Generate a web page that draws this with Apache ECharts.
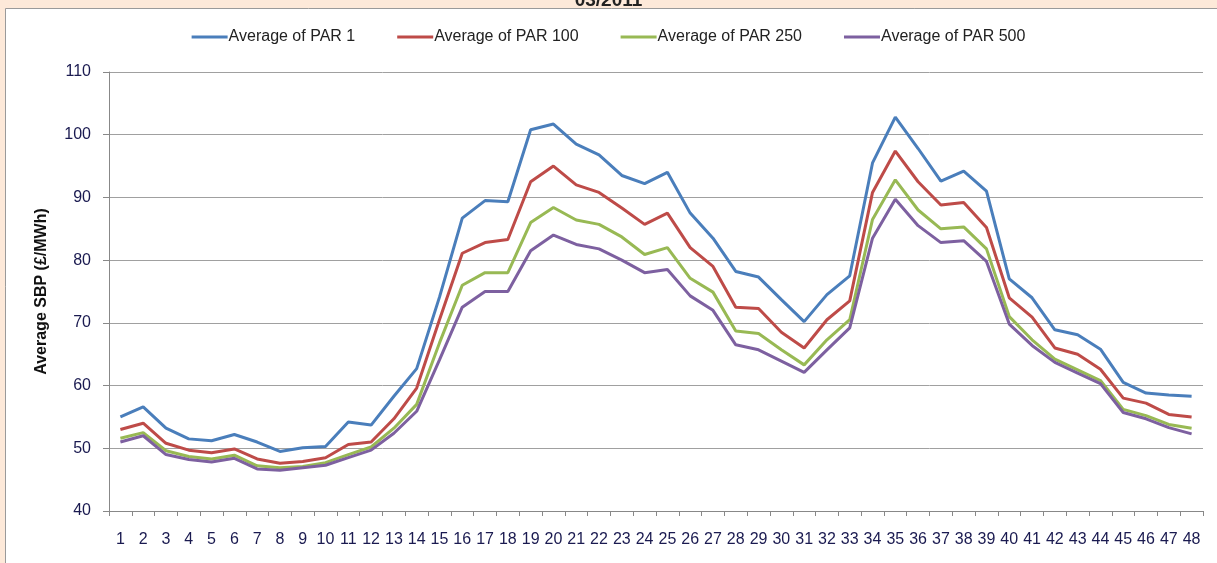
<!DOCTYPE html>
<html>
<head>
<meta charset="utf-8">
<script src="https://cdn.jsdelivr.net/npm/echarts@6/dist/echarts.min.js"></script>
<style>
html,body{margin:0;padding:0;background:#fde9d9;}
#chart{width:1217px;height:563px;}
</style>
</head>
<body>
<div id="chart"></div>
<script>
var periods=['1','2','3','4','5','6','7','8','9','10','11','12','13','14','15','16','17','18','19','20','21','22','23','24',
	'25','26','27','28','29','30','31','32','33','34','35','36','37','38','39','40','41','42','43','44','45','46','47','48'];
var par1=[55.0,56.6,53.2,51.5,51.2,52.2,51.0,49.5,50.1,50.3,54.2,53.7,58.3,62.7,74.1,86.7,89.5,89.3,100.8,101.7,98.5,96.8,93.5,92.2,
	94.0,87.5,83.5,78.2,77.3,73.7,70.2,74.5,77.5,95.5,102.8,97.8,92.6,94.2,91.0,77.0,74.0,68.9,68.1,65.8,60.5,58.8,58.5,58.3];
var par100=[53.0,54.0,50.8,49.7,49.3,49.9,48.3,47.6,47.9,48.5,50.6,51.0,54.7,59.6,70.5,81.1,82.8,83.3,92.5,95.0,92.0,90.8,88.3,85.7,
	87.5,82.0,79.0,72.5,72.3,68.5,66.0,70.5,73.5,90.8,97.4,92.5,88.8,89.2,85.2,74.0,70.9,66.0,65.0,62.6,58.0,57.2,55.4,55.0];
var par250=[51.6,52.5,49.6,48.7,48.3,48.9,47.2,46.9,47.1,47.7,49.0,50.2,53.2,57.0,66.8,76.0,78.0,78.0,86.0,88.4,86.4,85.7,83.7,80.9,
	82.0,77.1,74.9,68.7,68.3,65.7,63.3,67.3,70.5,86.5,92.8,88.0,85.0,85.3,81.8,71.0,67.3,64.2,62.5,60.8,56.2,55.2,53.8,53.2];
var par500=[51.0,52.0,49.0,48.2,47.8,48.4,46.7,46.5,46.9,47.3,48.5,49.7,52.4,55.9,64.1,72.5,75.0,75.0,81.5,84.0,82.5,81.8,80.0,78.0,
	78.5,74.3,72.0,66.5,65.7,63.9,62.1,65.7,69.2,83.5,89.7,85.5,82.8,83.1,79.8,69.8,66.4,63.7,62.0,60.3,55.7,54.7,53.3,52.3];
var seriesNames=['Average of PAR 1','Average of PAR 100','Average of PAR 250','Average of PAR 500'];
var seriesColors=['#4a7ebb','#be4b48','#98b954','#7d60a0'];

var font='"Liberation Sans",Arial,sans-serif';
var mychart=echarts.init(document.getElementById('chart'));
var allData=[par1,par100,par250,par500];
var series=allData.map(function(d,i){
	return {
		name:seriesNames[i],
		type:'line',
		data:d,
		symbol:'none',
		lineStyle:{width:3,color:seriesColors[i]},
		itemStyle:{color:seriesColors[i]}
	};
});
var option={
	backgroundColor:'#fde9d9',
	animation:false,
	graphic:[{
		type:'rect',
		z:-1,
		shape:{x:5.5,y:8.5,width:1220,height:560},
		style:{fill:'#ffffff',stroke:'#9a9a9a',lineWidth:1}
	}],
	title:{
		text:'03/2011',
		left:'center',
		top:-14,
		textStyle:{fontFamily:font,fontSize:19,fontWeight:'bold',color:'#222'}
	},
	legend:{
		top:24,
		left:'center',
		itemWidth:36,
		itemHeight:3,
		itemGap:42,
		icon:'rect',
		textStyle:{fontFamily:font,fontSize:16,color:'#222',padding:[0,0,0,-4]},
		data:seriesNames
	},
	grid:{left:109,right:14,top:72,bottom:52,containLabel:false},
	xAxis:{
		type:'category',
		data:periods,
		boundaryGap:true,
		axisLine:{lineStyle:{color:'#888',width:1}},
		axisTick:{show:true,length:5,lineStyle:{color:'#888'}},
		axisLabel:{interval:0,margin:21,fontFamily:font,fontSize:16,color:'#1a1a50'}
	},
	yAxis:{
		type:'value',
		min:40,max:110,interval:10,
		name:'Average SBP (£/MWh)',
		nameLocation:'middle',
		nameGap:59,
		nameTextStyle:{fontFamily:font,fontSize:16,fontWeight:'bold',color:'#111'},
		axisLine:{show:true,lineStyle:{color:'#888',width:1}},
		axisTick:{show:true,length:6,lineStyle:{color:'#888'}},
		splitLine:{lineStyle:{color:'#a0a0a0',width:1}},
		axisLabel:{margin:18,fontFamily:font,fontSize:16,color:'#1a1a50'}
	},
	series:series
};
mychart.setOption(option);
</script>
</body>
</html>
